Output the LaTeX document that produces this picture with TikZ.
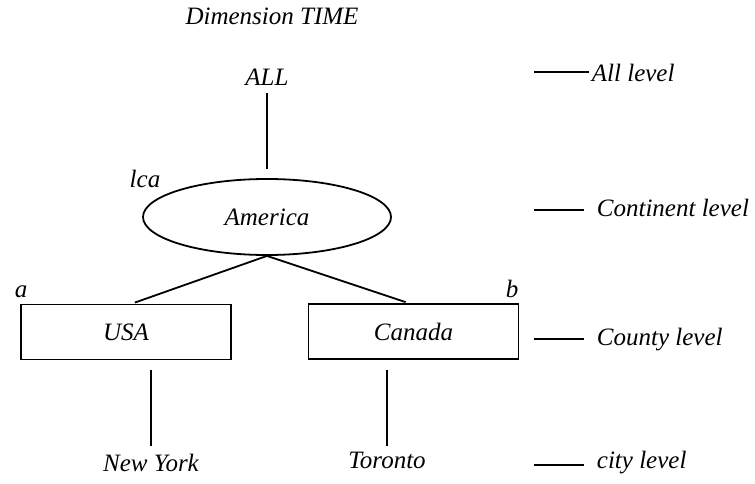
\documentclass[tikz,border=0pt]{standalone}
\usepackage{fontspec}
\setmainfont{Liberation Serif}
\usetikzlibrary{shapes.geometric}
\tikzset{
  lbl/.style={font=\fontsize{25}{30}\selectfont\itshape,inner sep=1pt},
  boxnode/.style={lbl,draw,minimum width=210pt,minimum height=55pt,inner sep=0pt},
  ovalnode/.style={lbl,draw,ellipse,minimum width=248pt,minimum height=76pt,inner sep=0pt}
}
\begin{document}
\begin{tikzpicture}[x=1pt,y=-1pt,line width=1.8pt]
  \useasboundingbox (0,0) rectangle (755,484);
  \node[lbl,anchor=base] (dim) at (272,25) {Dimension TIME};
  \node[lbl,anchor=base] (all) at (267,86) {ALL};
  \node[ovalnode] (america) at (267,217) {America};
  \node[lbl,anchor=base] (lca) at (145,187) {lca};
  \node[boxnode] (usa) at (126,332) {USA};
  \node[boxnode] (canada) at (413.5,331.5) {Canada};
  \node[lbl,anchor=base] (a) at (21,297) {a};
  \node[lbl,anchor=base] (b) at (512,297) {b};
  \node[lbl,anchor=base] (newyork) at (151,471) {New York};
  \node[lbl,anchor=base] (toronto) at (387,468) {Toronto};
  % tree edges
  \draw[shorten <=5pt,shorten >=9pt] (all.south) -- (america.north);
  \draw[shorten >=3pt] (america.south) -- ([xshift=6pt]usa.north);
  \draw[shorten >=3pt] (america.south) -- ([xshift=-5pt]canada.north);
  \draw[shorten <=6pt,shorten >=10pt] (newyork.north) -- (newyork.north |- usa.south);
  \draw[shorten <=4pt,shorten >=10pt] (toronto.north) -- (toronto.north |- canada.south);
  % level marks on the right
  \foreach \nm/\yb/\yt/\xt/\gap/\txt in {lall/82/72/590/1pt/All level,
      lcont/216/210/595/11pt/Continent level,
      lcounty/345/339/595/11pt/County level,
      lcity/468/465/595/11pt/city level}{
    \node[lbl,anchor=base west] (\nm) at (\xt,\yb) {\txt};
    \coordinate (t\nm) at (534,\yt);
    \draw[shorten >=\gap] (t\nm) -- (\nm.west |- t\nm);
  }
\end{tikzpicture}
\end{document}
